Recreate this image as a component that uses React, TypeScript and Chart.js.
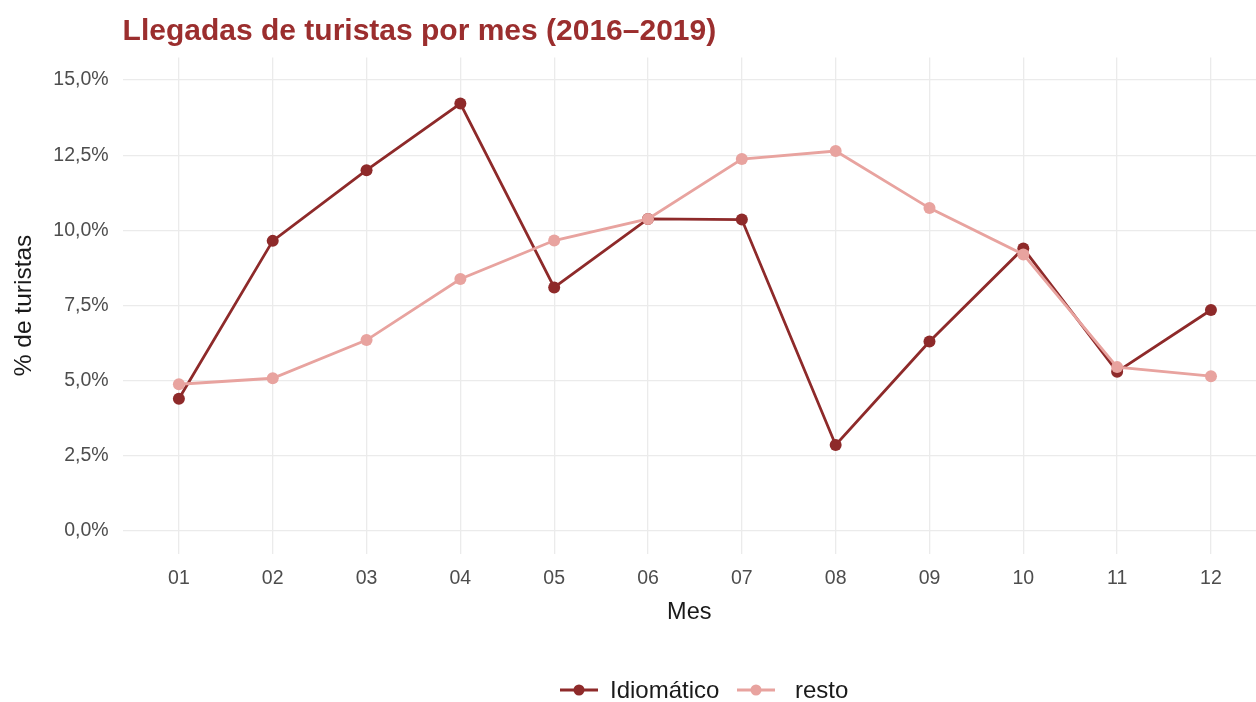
import React, { useEffect, useRef } from "react";
import { Chart, registerables } from "chart.js";

Chart.register(...registerables);

const months = ["01", "02", "03", "04", "05", "06", "07", "08", "09", "10", "11", "12"];
const idiomatico = [4.4, 9.65, 12.0, 14.22, 8.1, 10.38, 10.36, 2.86, 6.3, 9.4, 5.3, 7.35];
const resto = [4.88, 5.08, 6.35, 8.38, 9.66, 10.38, 12.37, 12.64, 10.74, 9.2, 5.45, 5.15];
const yTicks = [0, 2.5, 5, 7.5, 10, 12.5, 15];
const seriesNames = ["Idiomático", "resto"];

const DARK = "#8e2a2a";
const LIGHT = "#e8a39f";
const FONT = "'Liberation Sans', Arial, sans-serif";

export default function App() {
  const ref = useRef<HTMLCanvasElement | null>(null);

  useEffect(() => {
    document.body.style.margin = "0";
    const canvas = ref.current;
    if (!canvas) return;

    const overlay = {
      id: "overlay",
      afterDraw(chart: any) {
        const ctx = chart.ctx;
        const area = chart.chartArea;
        ctx.save();
        // title
        ctx.fillStyle = "#9b2e2e";
        ctx.font = `bold 30px ${FONT}`;
        ctx.textAlign = "left";
        ctx.textBaseline = "alphabetic";
        ctx.fillText("Llegadas de turistas por mes (2016–2019)", area.left, 40);

        // legend
        const y = 690;
        const items = [
          { name: seriesNames[0], color: DARK, x: 560, tx: 610 },
          { name: seriesNames[1], color: LIGHT, x: 737, tx: 795 },
        ];
        ctx.font = `24px ${FONT}`;
        ctx.textBaseline = "middle";
        items.forEach((it) => {
          ctx.strokeStyle = it.color;
          ctx.lineWidth = 3;
          ctx.beginPath();
          ctx.moveTo(it.x, y);
          ctx.lineTo(it.x + 38, y);
          ctx.stroke();
          ctx.fillStyle = it.color;
          ctx.beginPath();
          ctx.arc(it.x + 19, y, 5.5, 0, Math.PI * 2);
          ctx.fill();
          ctx.fillStyle = "#1a1a1a";
          ctx.fillText(it.name, it.tx, y + 1);
        });
        ctx.restore();
      },
    };

    const chart = new Chart(canvas, {
      type: "line",
      data: {
        datasets: [
          {
            label: seriesNames[0],
            data: idiomatico.map((v, i) => ({ x: i + 1, y: v })),
            borderColor: DARK,
            backgroundColor: DARK,
            borderWidth: 2.8,
            pointRadius: 6,
            pointHoverRadius: 6,
            pointBorderWidth: 0,
            order: 2,
          },
          {
            label: seriesNames[1],
            data: resto.map((v, i) => ({ x: i + 1, y: v })),
            borderColor: LIGHT,
            backgroundColor: LIGHT,
            borderWidth: 2.8,
            pointRadius: 6,
            pointHoverRadius: 6,
            pointBorderWidth: 0,
            order: 1,
          },
        ],
      },
      options: {
        animation: false,
        responsive: false,
        maintainAspectRatio: false,
        layout: { padding: { top: 57.5, left: 0, right: 0, bottom: 68.5 } },
        plugins: {
          legend: { display: false },
          tooltip: { enabled: false },
          title: { display: false },
        },
        scales: {
          x: {
            type: "linear",
            min: 0.4,
            max: 12.48,
            afterBuildTicks: (scale: any) => {
              scale.ticks = months.map((_, i) => ({ value: i + 1 }));
            },
            afterFit: (scale: any) => {
              scale.height = 80;
              scale.paddingLeft = 0;
              scale.paddingRight = 0;
            },
            grid: { color: "#ebebeb", lineWidth: 1.3, drawTicks: false },
            border: { display: false },
            ticks: {
              padding: 13,
              color: "#4d4d4d",
              font: { family: FONT, size: 19.5 },
              autoSkip: false,
              maxRotation: 0,
              callback: (v: any) => months[Math.round(Number(v)) - 1] ?? "",
            },
            title: {
              display: true,
              text: "Mes",
              color: "#1a1a1a",
              font: { family: FONT, size: 23.5 },
              padding: { top: 0, bottom: 7 },
            },
          },
          y: {
            type: "linear",
            min: -0.75,
            max: 15.75,
            afterBuildTicks: (scale: any) => {
              scale.ticks = yTicks.map((v) => ({ value: v }));
            },
            afterFit: (scale: any) => {
              scale.width = 122.6;
            },
            grid: { color: "#ebebeb", lineWidth: 1.3, drawTicks: false },
            border: { display: false },
            ticks: {
              padding: 14,
              color: "#4d4d4d",
              font: { family: FONT, size: 19.5 },
              callback: (v: any) => Number(v).toFixed(1).replace(".", ",") + "%",
            },
            title: {
              display: true,
              text: "% de turistas",
              color: "#1a1a1a",
              font: { family: FONT, size: 24.5 },
              padding: { top: 10, bottom: 0 },
            },
          },
        },
      },
      plugins: [overlay],
    } as any);

    return () => chart.destroy();
  }, []);

  return (
    <div style={{ width: 1256, height: 702, background: "#fff", overflow: "hidden" }}>
      <canvas ref={ref} width={1262} height={702} style={{ display: "block" }} />
    </div>
  );
}
